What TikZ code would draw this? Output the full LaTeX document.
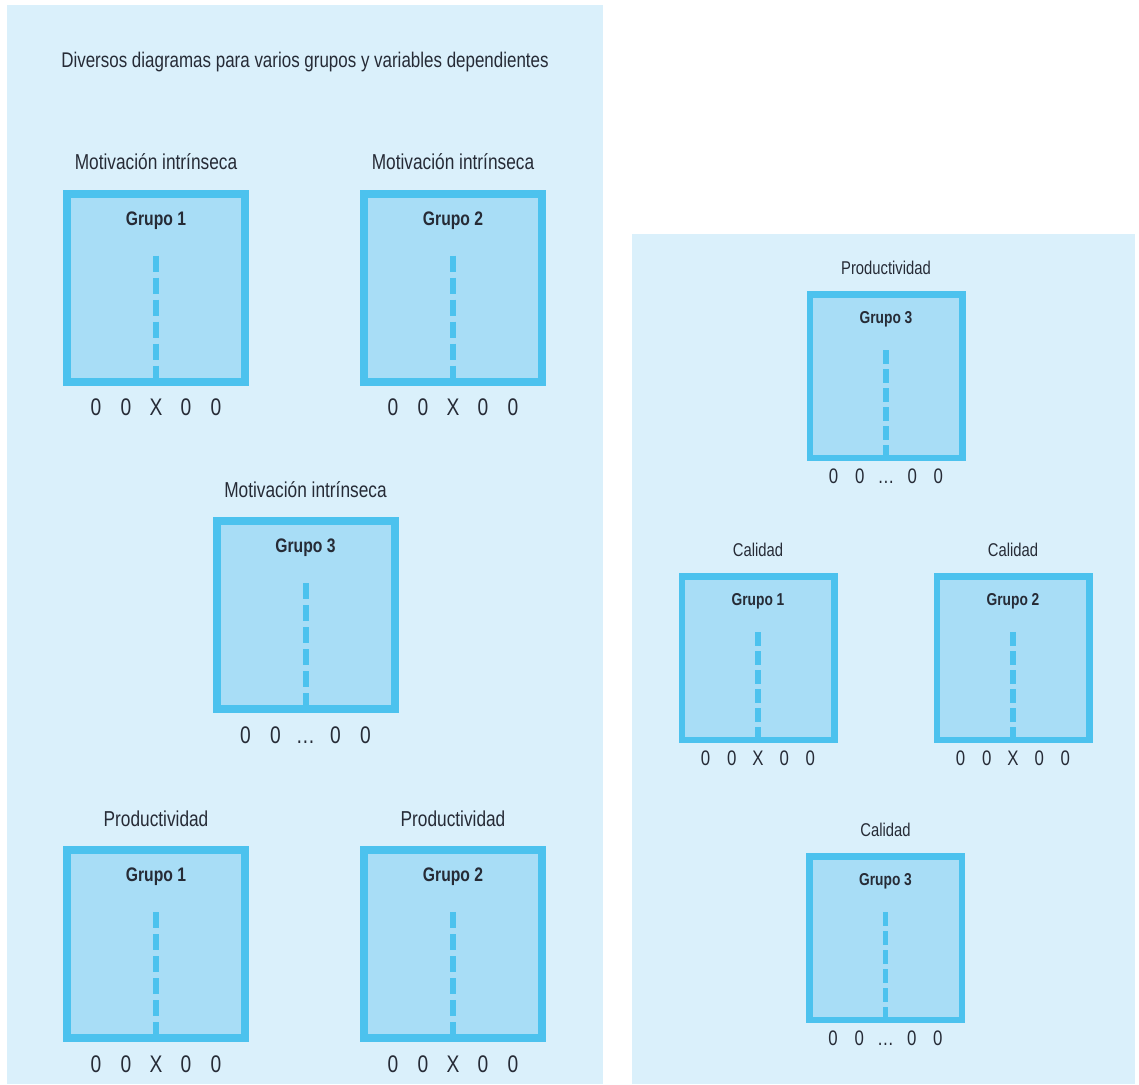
\documentclass[tikz,border=0pt]{standalone}
\usepackage{fontspec}
\setmainfont{Liberation Sans}[FakeStretch=0.8]
\usetikzlibrary{positioning}
\definecolor{panelBg}{HTML}{DAF0FB}
\definecolor{boxFill}{HTML}{A8DDF6}
\definecolor{boxLine}{HTML}{4CC2EE}
\definecolor{txtDark}{HTML}{262B36}

\begin{document}
\begin{tikzpicture}[x=0.5pt, y=-0.5pt,
      txt/.style={text=txtDark, inner sep=0pt},
      panel/.style={fill=panelBg, draw=none},
      grp/.style={draw=boxLine, fill=boxFill, line width=4pt, outer sep=0pt,
        minimum width=89pt, minimum height=94pt},
      rgrp/.style={grp, line width=3.25pt, minimum width=76.25pt, minimum height=81.75pt},
      splitline/.style={draw=boxLine, line width=3pt, dash pattern=on 8pt off 3pt},
      rsplitline/.style={splitline, line width=2.6pt, dash pattern=on 7pt off 2.5pt},
      ttl/.style={txt, font=\fontsize{10.6}{12}\selectfont},
      varlbl/.style={txt, font=\fontsize{10.8}{12}\selectfont},
      rvarlbl/.style={txt, font=\fontsize{9.25}{11}\selectfont},
      grplbl/.style={txt, font=\fontsize{9.8}{11}\selectfont\bfseries},
      rgrplbl/.style={txt, font=\fontsize{8.6}{10}\selectfont\bfseries},
      numlbl/.style={txt, anchor=base, font=\fontsize{12}{13}\selectfont},
      rnumlbl/.style={numlbl, font=\fontsize{10.5}{12}\selectfont}]
    \useasboundingbox (0,0) rectangle (1139,1084);
    % panels
    \fill[panel] (7,5) rectangle (603,1084);
    \fill[panel] (632,234) rectangle (1135,1084);
    \node[ttl] (title) at (305,62) {Diversos diagramas para varios grupos y variables dependientes};
    % left panel: motivacion and productividad
    \foreach \nm/\px/\py/\var/\g/\cen in {mi1/156/287.5/Motivación intrínseca/1/X,
        mi2/453/287.5/Motivación intrínseca/2/X, mi3/305.5/615/Motivación intrínseca/3/\dots,
        pr1/156/944/Productividad/1/X, pr2/453/944/Productividad/2/X} {
      \node[grp] (\nm) at (\px,\py) {};
      \node[varlbl, above=11.5pt of \nm] (\nm-t) {\var};
      \node[grplbl, below=8.75pt of \nm.north] (\nm-g) {Grupo \g};
      \coordinate[below=31pt of \nm.north] (\nm-d);
      \draw[splitline] (\nm-d) -- (\nm.south);
      \foreach \t [count=\k] in {0,0,\cen,0,0}
        \node[numlbl] (\nm-n\k) at ([xshift={(\k-3)*15pt}, yshift=-17pt]\nm.south) {\t};
    }
    % right panel: productividad and calidad
    \foreach \nm/\px/\py/\var/\g/\cen in {pr3/886/376/Productividad/3/\dots,
        ca1/758/658/Calidad/1/X, ca2/1013/658/Calidad/2/X, ca3/885.5/938/Calidad/3/\dots} {
      \node[rgrp] (\nm) at (\px,\py) {};
      \node[rvarlbl, above=9.5pt of \nm] (\nm-t) {\var};
      \node[rgrplbl, below=8.3pt of \nm.north] (\nm-g) {Grupo \g};
      \coordinate[below=28pt of \nm.north] (\nm-d);
      \draw[rsplitline] (\nm-d) -- (\nm.south);
      \foreach \t [count=\k] in {0,0,\cen,0,0}
        \node[rnumlbl] (\nm-n\k) at ([xshift={(\k-3)*13.1pt}, yshift=-13pt]\nm.south) {\t};
    }
  \end{tikzpicture}
\end{document}
